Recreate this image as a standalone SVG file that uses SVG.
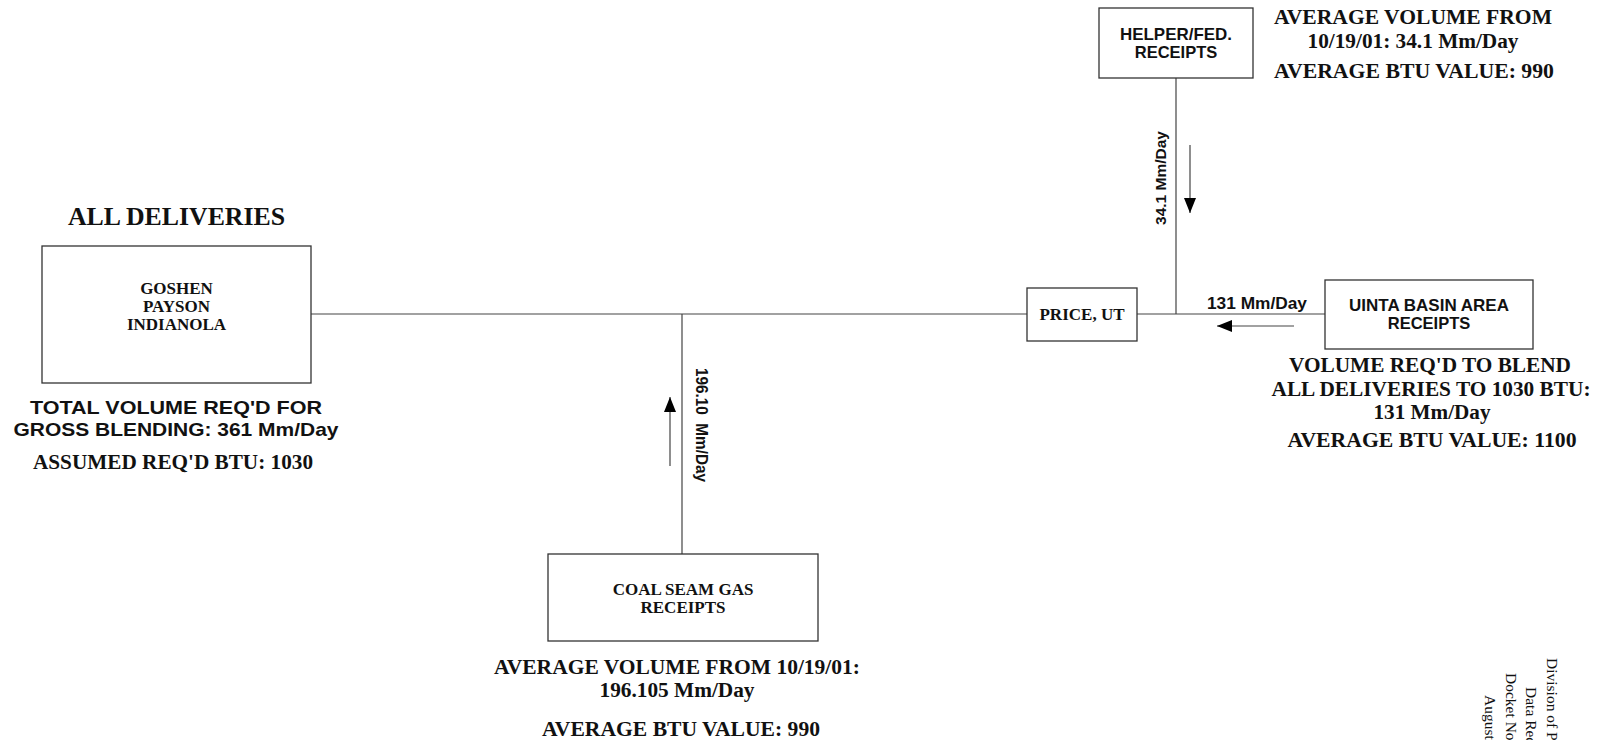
<svg xmlns="http://www.w3.org/2000/svg" width="1608" height="740" viewBox="0 0 1608 740">
<defs>
<style>
.box{fill:#fff;stroke:#333;stroke-width:1.3}
.ln{fill:none;stroke:#444;stroke-width:1.2}
.ar{fill:none;stroke:#444;stroke-width:1.2;marker-end:url(#ah)}
.tb{font-family:"Liberation Serif","Times New Roman",serif;font-weight:bold;fill:#111;text-anchor:middle}
.ab{font-family:"Liberation Sans",Arial,sans-serif;font-weight:bold;fill:#111;text-anchor:middle}
.tr{font-family:"Liberation Serif","Times New Roman",serif;fill:#111}
</style>
<marker id="ah" markerUnits="userSpaceOnUse" markerWidth="16" markerHeight="12" refX="15" refY="6" orient="auto">
<path d="M0,0 L15,6 L0,12 z" fill="#000"/>
</marker>
</defs>
<rect width="1608" height="740" fill="#fff"/>

<g id="connectors">
<line class="ln" x1="311" y1="314" x2="1027" y2="314"/>
<line class="ln" x1="1137" y1="314" x2="1325" y2="314"/>
<line class="ln" x1="1176" y1="78" x2="1176" y2="314"/>
<line class="ln" x1="682" y1="314" x2="682" y2="554"/>
<line class="ar" x1="670" y1="466" x2="670" y2="397"/>
<line class="ar" x1="1190" y1="145" x2="1190" y2="213"/>
<line class="ar" x1="1294" y1="326" x2="1217" y2="326"/>
<text class="ab" font-size="16" x="1257" y="309" textLength="100" lengthAdjust="spacingAndGlyphs">131 Mm/Day</text>
<text class="ab" font-size="15.5" transform="translate(1166,178) rotate(-90)" textLength="94" lengthAdjust="spacingAndGlyphs">34.1 Mm/Day</text>
<text class="ab" font-size="16" transform="translate(696,425) rotate(90)" textLength="114" lengthAdjust="spacingAndGlyphs" xml:space="preserve">196.10  Mm/Day</text>
</g>

<g id="all-deliveries">
<text class="tb" font-size="25" x="176.5" y="225" textLength="217" lengthAdjust="spacingAndGlyphs">ALL DELIVERIES</text>
<rect class="box" x="42" y="246" width="269" height="137"/>
<text class="tb" font-size="17" x="176.5" y="294">GOSHEN</text>
<text class="tb" font-size="17" x="176.5" y="312">PAYSON</text>
<text class="tb" font-size="17" x="176.5" y="330">INDIANOLA</text>
<text class="ab" font-size="19" x="176" y="414" textLength="292" lengthAdjust="spacingAndGlyphs">TOTAL VOLUME REQ'D FOR</text>
<text class="ab" font-size="19" x="176" y="436" textLength="325" lengthAdjust="spacingAndGlyphs">GROSS BLENDING: 361 Mm/Day</text>
<text class="tb" font-size="20" x="173" y="469" textLength="280" lengthAdjust="spacingAndGlyphs">ASSUMED REQ'D BTU: 1030</text>
</g>

<g id="price">
<rect class="box" x="1027" y="288" width="110" height="53"/>
<text class="tb" font-size="17" x="1082" y="320">PRICE, UT</text>
</g>

<g id="helper">
<rect class="box" x="1099" y="8" width="154" height="70"/>
<text class="ab" font-size="16.5" x="1176" y="40" textLength="112" lengthAdjust="spacingAndGlyphs">HELPER/FED.</text>
<text class="ab" font-size="16.5" x="1176" y="58">RECEIPTS</text>
<text class="tb" font-size="20" x="1413" y="24" textLength="278" lengthAdjust="spacingAndGlyphs">AVERAGE VOLUME FROM</text>
<text class="tb" font-size="20" x="1413" y="48" textLength="211" lengthAdjust="spacingAndGlyphs">10/19/01: 34.1 Mm/Day</text>
<text class="tb" font-size="20" x="1414" y="78" textLength="280" lengthAdjust="spacingAndGlyphs">AVERAGE BTU VALUE: 990</text>
</g>

<g id="uinta">
<rect class="box" x="1325" y="280" width="208" height="69"/>
<text class="ab" font-size="16.5" x="1429" y="311" textLength="160" lengthAdjust="spacingAndGlyphs">UINTA BASIN AREA</text>
<text class="ab" font-size="16.5" x="1429" y="329">RECEIPTS</text>
<text class="tb" font-size="20" x="1430" y="372" textLength="282" lengthAdjust="spacingAndGlyphs">VOLUME REQ'D TO BLEND</text>
<text class="tb" font-size="20" x="1431" y="396" textLength="319" lengthAdjust="spacingAndGlyphs">ALL DELIVERIES TO 1030 BTU:</text>
<text class="tb" font-size="20" x="1432" y="419" textLength="117" lengthAdjust="spacingAndGlyphs">131 Mm/Day</text>
<text class="tb" font-size="20" x="1432" y="447" textLength="289" lengthAdjust="spacingAndGlyphs">AVERAGE BTU VALUE: 1100</text>
</g>

<g id="coal-seam">
<rect class="box" x="548" y="554" width="270" height="87"/>
<text class="tb" font-size="17" x="683" y="595">COAL SEAM GAS</text>
<text class="tb" font-size="17" x="683" y="613">RECEIPTS</text>
<text class="tb" font-size="20" x="677" y="674" textLength="366" lengthAdjust="spacingAndGlyphs">AVERAGE VOLUME FROM 10/19/01:</text>
<text class="tb" font-size="20" x="677" y="697" textLength="155" lengthAdjust="spacingAndGlyphs">196.105 Mm/Day</text>
<text class="tb" font-size="20" x="681" y="736" textLength="278" lengthAdjust="spacingAndGlyphs">AVERAGE BTU VALUE: 990</text>
</g>

<g id="footer">
<text class="tr" font-size="15.5" transform="translate(1547,658) rotate(90)">Division of P</text>
<text class="tr" font-size="15.5" transform="translate(1526,687) rotate(90)">Data Rec</text>
<text class="tr" font-size="15.5" transform="translate(1506,673) rotate(90)">Docket No</text>
<text class="tr" font-size="15.5" transform="translate(1485,695) rotate(90)">August</text>
</g>
</svg>
